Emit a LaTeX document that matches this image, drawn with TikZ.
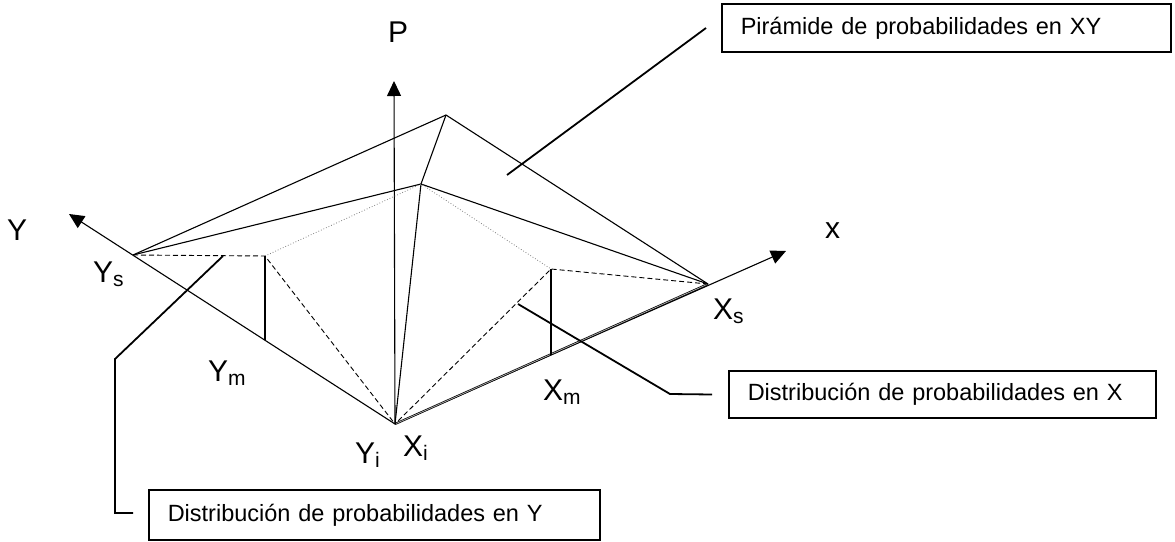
\documentclass[tikz,border=0pt]{standalone}
\usepackage{fontspec}
\setmainfont{Liberation Sans}
\usepackage{tikz}
\usetikzlibrary{arrows.meta,calc}
\newcommand{\lowsub}[1]{\raisebox{-4pt}{\fontsize{21}{21}\selectfont #1}}

\begin{document}
\begin{tikzpicture}[x=1pt,y=-1pt,
    lbl/.style={font=\fontsize{30}{30}\selectfont,inner sep=0pt,anchor=base west},
    note/.style={draw,line width=1.5pt,anchor=west,inner xsep=19pt,inner ysep=0pt,
                 align=left,font=\fontsize{23.5}{28}\selectfont},
    axisline/.style={line width=1.1pt,-{Triangle[length=15pt,width=14pt]}},
    facet/.style={line width=1.1pt},
    hid/.style={line width=0.9pt,dash pattern=on 5pt off 3pt},
    fine/.style={line width=0.8pt,gray,dotted},
    lead/.style={line width=1.8pt}]
    \useasboundingbox (0,0) rectangle (1175,541);

    % corner points
    \coordinate (O) at (395,424);
    \coordinate (Ptip) at (394,81);
    \coordinate (Ytip) at (69,214);
    \coordinate (Xtip) at (786,251);
    \coordinate (A) at (446,115);
    \coordinate (B) at (421,184);
    \coordinate (Ys) at (133,255);
    \coordinate (Xs) at (708,284);
    \coordinate (Ymt) at (265,256);
    \coordinate (Xmt) at (551,269);
    \coordinate (Ymb) at (265,340);
    \coordinate (Xmb) at (551,355);

    % axes
    \draw[axisline] (O) -- (Ptip);
    \draw[axisline] (O) -- (Ytip);
    \draw[axisline] (O) -- (Xtip);
    \draw[line width=0.7pt,double=gray!60,double distance=0.7pt] (O) -- (Xs);

    % pyramid
    \draw[facet] (Ys) -- (A) -- (Xs);
    \draw[facet] (A) -- (B) -- (O);
    \draw[facet] (Ys) -- (B) -- (Xs);
    \draw[fine] (Ymt) -- (B) -- (Xmt);
    \draw[hid] (Ys) -- (Ymt) -- (O);
    \draw[hid] (Xs) -- (Xmt) -- (O);
    \draw[facet] (Ymt) -- (Ymb);
    \draw[facet] (Xmt) -- (Xmb);

    % labels
    \node[lbl] (lP) at (388,42) {P};
    \node[lbl] (lY) at (7,240) {Y};
    \node[lbl] (lx) at (825,238) {x};
    \node[lbl] (lYs) at (93,282) {Y\lowsub{s}};
    \node[lbl] (lYm) at (208,381) {Y\lowsub{m}};
    \node[lbl] (lYi) at (355,463) {Y\lowsub{i}};
    \node[lbl] (lXi) at (403,456) {X\lowsub{i}};
    \node[lbl] (lXm) at (543,400) {X\lowsub{m}};
    \node[lbl] (lXs) at (713,319) {X\lowsub{s}};

    % callouts
    \node[note,text width=411pt,minimum height=48pt] (boxXY) at (721,28) {Pirámide de probabilidades en XY};
    \node[note,text width=389pt,minimum height=47pt] (boxX) at (728,394.5) {Distribución de probabilidades en X};
    \node[note,text width=413pt,minimum height=50pt] (boxY) at (148,515) {Distribución de probabilidades en Y};

    \coordinate (pXY) at (507,175);
    \coordinate (eXY) at ($(boxXY.west)+(-15,0)$);
    \coordinate (pX) at (518,304);
    \coordinate (kX) at (670,394);
    \coordinate (eX) at ($(boxX.west)+(-16,0)$);
    \coordinate (pY) at (223,256);
    \coordinate (kY1) at (115,359);
    \coordinate (kY2) at (115,513);
    \coordinate (eY) at ($(boxY.west)+(-15,-2)$);

    \draw[lead] (pXY) -- (eXY);
    \draw[lead] (pX) -- (kX) -- (eX);
    \draw[lead] (pY) -- (kY1) -- (kY2) -- (eY);
\end{tikzpicture}
\end{document}
